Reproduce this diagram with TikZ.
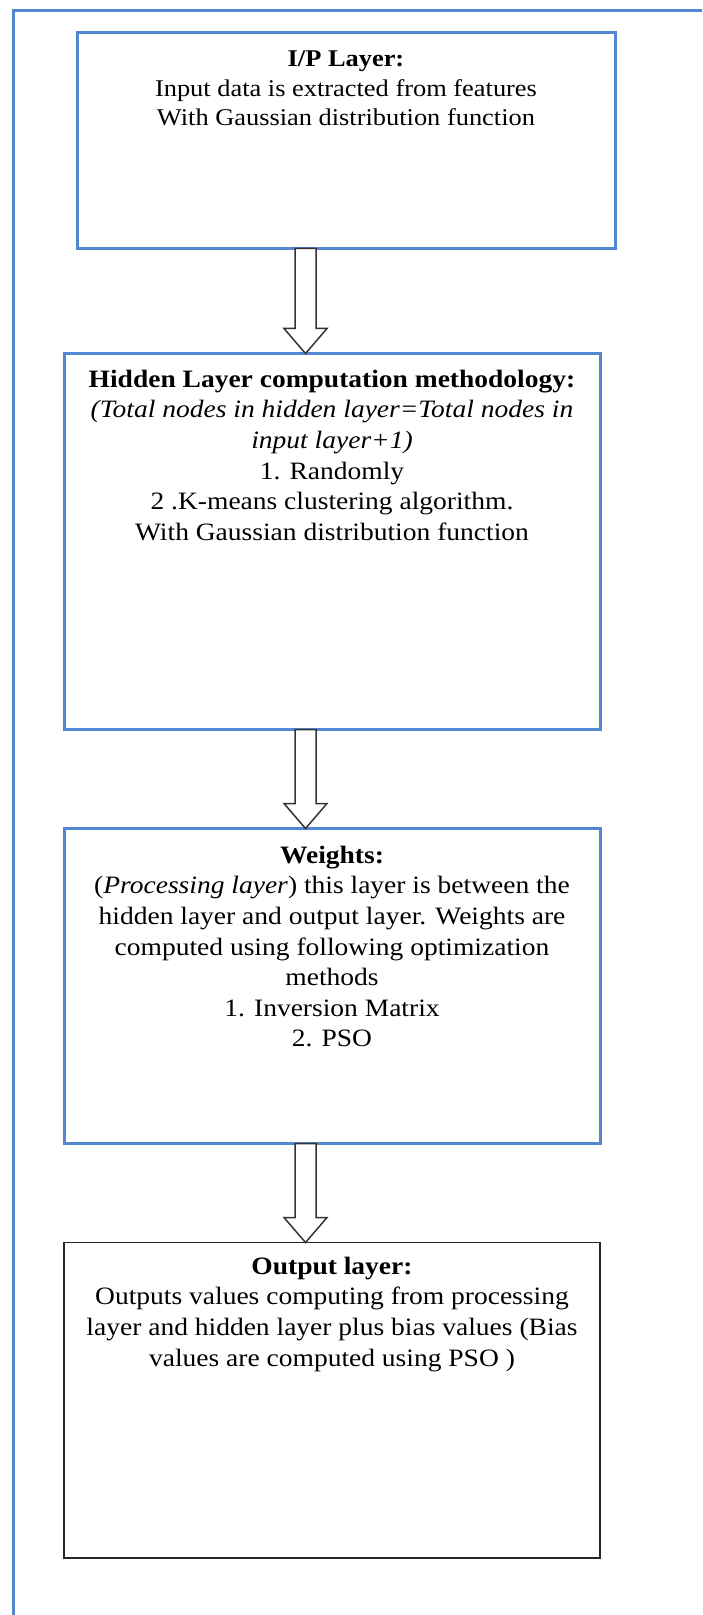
\documentclass[tikz,border=0pt]{standalone}
\usepackage{fontspec}
\setmainfont[FakeStretch=1.1]{Liberation Serif}
\usetikzlibrary{positioning}
\definecolor{boxblue}{RGB}{84,135,210}

\begin{document}
\begin{tikzpicture}[node distance=49.5pt,
    layer/.style={draw=boxblue,line width=1.5pt,inner sep=0pt,outer sep=0pt,minimum width=268pt},
    txt/.style={align=center,inner sep=0pt,font=\fontsize{12.5pt}{15.3pt}\selectfont},
    blockarrow/.style={draw=black!80,line width=0.75pt,fill=white}]
  \useasboundingbox (0,0) rectangle (351pt,-807.5pt);
  % page frame, only left and top edges show
  \draw[boxblue,line width=1.6pt] (6.75pt,-807.5pt) |- (351pt,-5.25pt);

  \node[layer,minimum width=269pt,minimum height=108pt] (ip) at (173pt,-70.25pt) {};
  \node[layer,minimum height=188pt,below=52.5pt of ip,xshift=-7pt] (hid) {};
  \node[layer,minimum height=157.5pt,below=of hid] (wts) {};
  \node[layer,draw=black!85,line width=0.9pt,minimum height=157.75pt,below=of wts] (outp) {};

  \node[txt,font=\fontsize{12pt}{14.7pt}\selectfont,below=9pt of ip.north] (iptxt)
    {\textbf{I/P Layer:}\\Input data is extracted from features\\With Gaussian distribution function};
  \node[txt,below=8pt of hid.north] (hidtxt)
    {\textbf{Hidden Layer computation methodology:}\\
     \textit{(Total nodes in hidden layer=Total nodes in}\\
     \textit{input layer+1)}\\
     1. Randomly\\2 .K-means clustering algorithm.\\With Gaussian distribution function};
  \node[txt,below=8.5pt of wts.north] (wtstxt)
    {\textbf{Weights:}\\
     (\textit{Processing layer}) this layer is between the\\
     hidden layer and output layer. Weights are\\
     computed using following optimization\\
     methods\\1. Inversion Matrix\\2. PSO};
  \node[txt,below=7pt of outp.north] (outptxt)
    {\textbf{Output layer:}\\
     Outputs values computing from processing\\
     layer and hidden layer plus bias values (Bias\\
     values are computed using PSO )};

  % hollow block arrows between the layers
  \coordinate (ax) at (152.75pt,0);
  \foreach \a/\b in {ip/hid,hid/wts,wts/outp} {
    \path (\a.south -| ax) coordinate (t) (\b.north -| ax) coordinate (p);
    \draw[blockarrow] ([xshift=-5.25pt]t) -- ([shift={(-5.25pt,12.5pt)}]p)
      -- ([shift={(-10.75pt,12.5pt)}]p) -- (p) -- ([shift={(10.75pt,12.5pt)}]p)
      -- ([shift={(5.25pt,12.5pt)}]p) -- ([xshift=5.25pt]t) -- cycle;
  }
\end{tikzpicture}
\end{document}
